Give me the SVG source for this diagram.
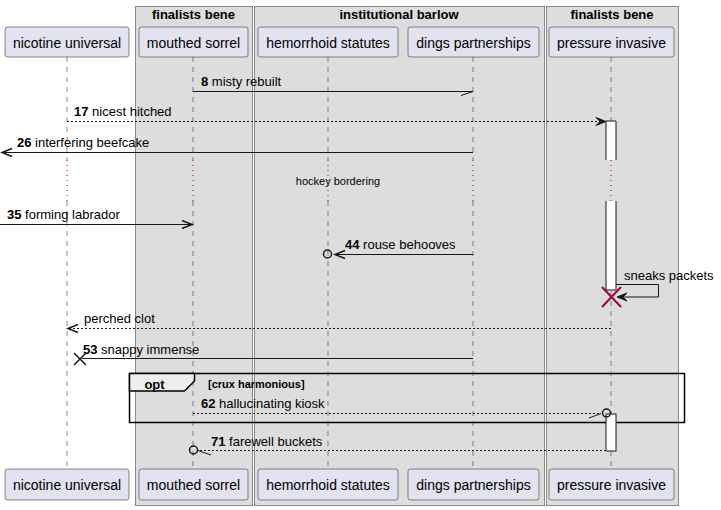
<svg xmlns="http://www.w3.org/2000/svg" width="721" height="510" viewBox="0 0 721 510">
<style>
.grp{fill:#DDDDDD;stroke:#8A8A8A;stroke-width:1}
.gt{font-family:"Liberation Sans",Arial,sans-serif;font-size:13px;font-weight:bold;fill:#000;text-anchor:middle}
.pb{fill:#E2E2F0;stroke:#181818;stroke-width:0.5}
.pt{font-family:"Liberation Sans",Arial,sans-serif;font-size:14px;fill:#000;text-anchor:middle}
.ll{stroke:#181818;stroke-width:0.5;stroke-dasharray:5,5;fill:none}
.dl{stroke:#A80036;stroke-width:1;stroke-dasharray:1,4;fill:none}
.m{stroke:#181818;stroke-width:1;fill:none}
.md{stroke:#181818;stroke-width:1;fill:none;stroke-dasharray:2,2}
.oa{stroke:#181818;stroke-width:1.5;fill:none}
.fa{fill:#181818;stroke:#181818;stroke-width:1}
.mt{font-family:"Liberation Sans",Arial,sans-serif;font-size:13px;fill:#000}
.mt tspan.n{font-weight:bold}
.act{fill:#FFFFFF;stroke:#181818;stroke-width:1}
.sm{font-family:"Liberation Sans",Arial,sans-serif;font-size:11px;fill:#000}
</style>
<rect width="721" height="510" fill="#FFFFFF"/>
<g id="groups">
<g id="box-finalists-bene-1"><rect class="grp" x="135.5" y="6.5" width="117" height="499"/><text class="gt" x="193.5" y="19">finalists bene</text></g>
<g id="box-institutional-barlow"><rect class="grp" x="254.5" y="6.5" width="290" height="499"/><text class="gt" x="399" y="19">institutional barlow</text></g>
<g id="box-finalists-bene-2"><rect class="grp" x="546.5" y="6.5" width="132" height="499"/><text class="gt" x="612" y="19">finalists bene</text></g>
</g>
<g id="lifelines">
<path class="ll" d="M67,57V160M67,201V468"/>
<path class="dl" d="M67,160V201"/>
<path class="ll" d="M193,57V160M193,201V468"/>
<path class="dl" d="M193,160V201"/>
<path class="ll" d="M328,57V160M328,201V468"/>
<path class="dl" d="M328,160V201"/>
<path class="ll" d="M473,57V160M473,201V468"/>
<path class="dl" d="M473,160V201"/>
<path class="ll" d="M611,57V160M611,201V468"/>
<path class="dl" d="M611,160V201"/>
</g>
<g id="fragment-opt">
<rect x="129.5" y="373.5" width="555" height="49" fill="none" stroke="#000" stroke-width="1.5"/>
<path d="M129.5,373.5H194.5V381L184.5,391H129.5Z" fill="#EEEEEE" stroke="#000" stroke-width="1.5"/>
<text x="154.5" y="389" font-family="Liberation Sans,Arial,sans-serif" font-size="13" font-weight="bold" text-anchor="middle">opt</text>
<text x="208" y="388" font-family="Liberation Sans,Arial,sans-serif" font-size="11" font-weight="bold">[crux harmonious]</text>
</g>
<g id="activations">
<path d="M606,121H616V160H606Z" fill="#FFFFFF"/>
<path class="act" d="M606,160V121H616V160"/>
<path d="M606,201H616V290H606Z" fill="#FFFFFF"/>
<path class="act" d="M606,201V290H616V201"/>
<rect class="act" x="606" y="414" width="10" height="37"/>
</g>
<g id="connectors">
<g id="msg8"><path class="m" d="M193,91.5H473"/><path class="m" d="M473,91.5L461,95.5"/><text class="mt" x="201" y="86"><tspan class="n">8</tspan> misty rebuilt</text></g>
<g id="msg17"><path class="md" d="M67,121.5H600"/><polygon class="fa" points="596,117.5 606,121.5 596,125.5 600,121.5"/><text class="mt" x="74" y="116"><tspan class="n">17</tspan> nicest hitched</text></g>
<g id="msg26"><path class="m" d="M473,152.5H2"/><path class="oa" d="M12,148.5L2,152.5L12,156.5"/><text class="mt" x="17" y="147"><tspan class="n">26</tspan> interfering beefcake</text></g>
<g id="delay"><text class="sm" x="338" y="185" text-anchor="middle">hockey bordering</text></g>
<g id="msg35"><path class="m" d="M0,224.5H192"/><path class="oa" d="M182,220.5L192,224.5L182,228.5"/><text class="mt" x="7" y="219"><tspan class="n">35</tspan> forming labrador</text></g>
<g id="msg44"><path class="m" d="M473,254.5H335"/><path class="oa" d="M345,250.5L335,254.5L345,258.5"/><circle cx="327.5" cy="254" r="4" fill="none" stroke="#181818" stroke-width="1.5"/><text class="mt" x="345" y="249"><tspan class="n">44</tspan> rouse behooves</text></g>
<g id="msg-sneaks"><path class="m" d="M616,284.5H658.5V297H618"/><polygon class="fa" points="627,293 617,297 627,301 623,297"/><text class="mt" x="624" y="280">sneaks packets</text></g>
<g id="destroy-pressure"><path d="M602,287L621,307M621,287L602,307" stroke="#A80036" stroke-width="2" fill="none"/></g>
<g id="msg-perched"><path class="md" d="M611,328.5H68"/><path class="oa" d="M78,324.5L68,328.5L78,332.5"/><text class="mt" x="84" y="323">perched clot</text></g>
<g id="msg53"><path class="m" d="M473,358.5H82"/><path d="M74,353L86,365M86,353L74,365" stroke="#181818" stroke-width="1.5" fill="none"/><text class="mt" x="83" y="354"><tspan class="n">53</tspan> snappy immense</text></g>
<g id="msg62"><path class="md" d="M193,413.5H601"/><path class="m" d="M601,413.5L589,418"/><circle cx="606.5" cy="413" r="4" fill="none" stroke="#181818" stroke-width="1.5"/><text class="mt" x="201" y="408"><tspan class="n">62</tspan> hallucinating kiosk</text></g>
<g id="msg71"><path class="md" d="M606,450.5H198"/><path class="m" d="M198,450.5L211,455"/><circle cx="193.5" cy="450" r="4" fill="none" stroke="#181818" stroke-width="1.5"/><text class="mt" x="211" y="446"><tspan class="n">71</tspan> farewell buckets</text></g>
</g>
<g id="participants">
<g id="p-nicotine-universal"><rect class="pb" x="5" y="27" width="124" height="30" rx="2.5"/><text class="pt" x="67" y="47.5">nicotine universal</text><rect class="pb" x="5" y="469" width="124" height="31" rx="2.5"/><text class="pt" x="67" y="490">nicotine universal</text></g>
<g id="p-mouthed-sorrel"><rect class="pb" x="139" y="27" width="109" height="30" rx="2.5"/><text class="pt" x="193.5" y="47.5">mouthed sorrel</text><rect class="pb" x="139" y="469" width="109" height="31" rx="2.5"/><text class="pt" x="193.5" y="490">mouthed sorrel</text></g>
<g id="p-hemorrhoid-statutes"><rect class="pb" x="258" y="27" width="140" height="30" rx="2.5"/><text class="pt" x="328" y="47.5">hemorrhoid statutes</text><rect class="pb" x="258" y="469" width="140" height="31" rx="2.5"/><text class="pt" x="328" y="490">hemorrhoid statutes</text></g>
<g id="p-dings-partnerships"><rect class="pb" x="408" y="27" width="131" height="30" rx="2.5"/><text class="pt" x="473.5" y="47.5">dings partnerships</text><rect class="pb" x="408" y="469" width="131" height="31" rx="2.5"/><text class="pt" x="473.5" y="490">dings partnerships</text></g>
<g id="p-pressure-invasive"><rect class="pb" x="549" y="27" width="125" height="30" rx="2.5"/><text class="pt" x="611.5" y="47.5">pressure invasive</text><rect class="pb" x="549" y="469" width="125" height="31" rx="2.5"/><text class="pt" x="611.5" y="490">pressure invasive</text></g>
</g>
</svg>
